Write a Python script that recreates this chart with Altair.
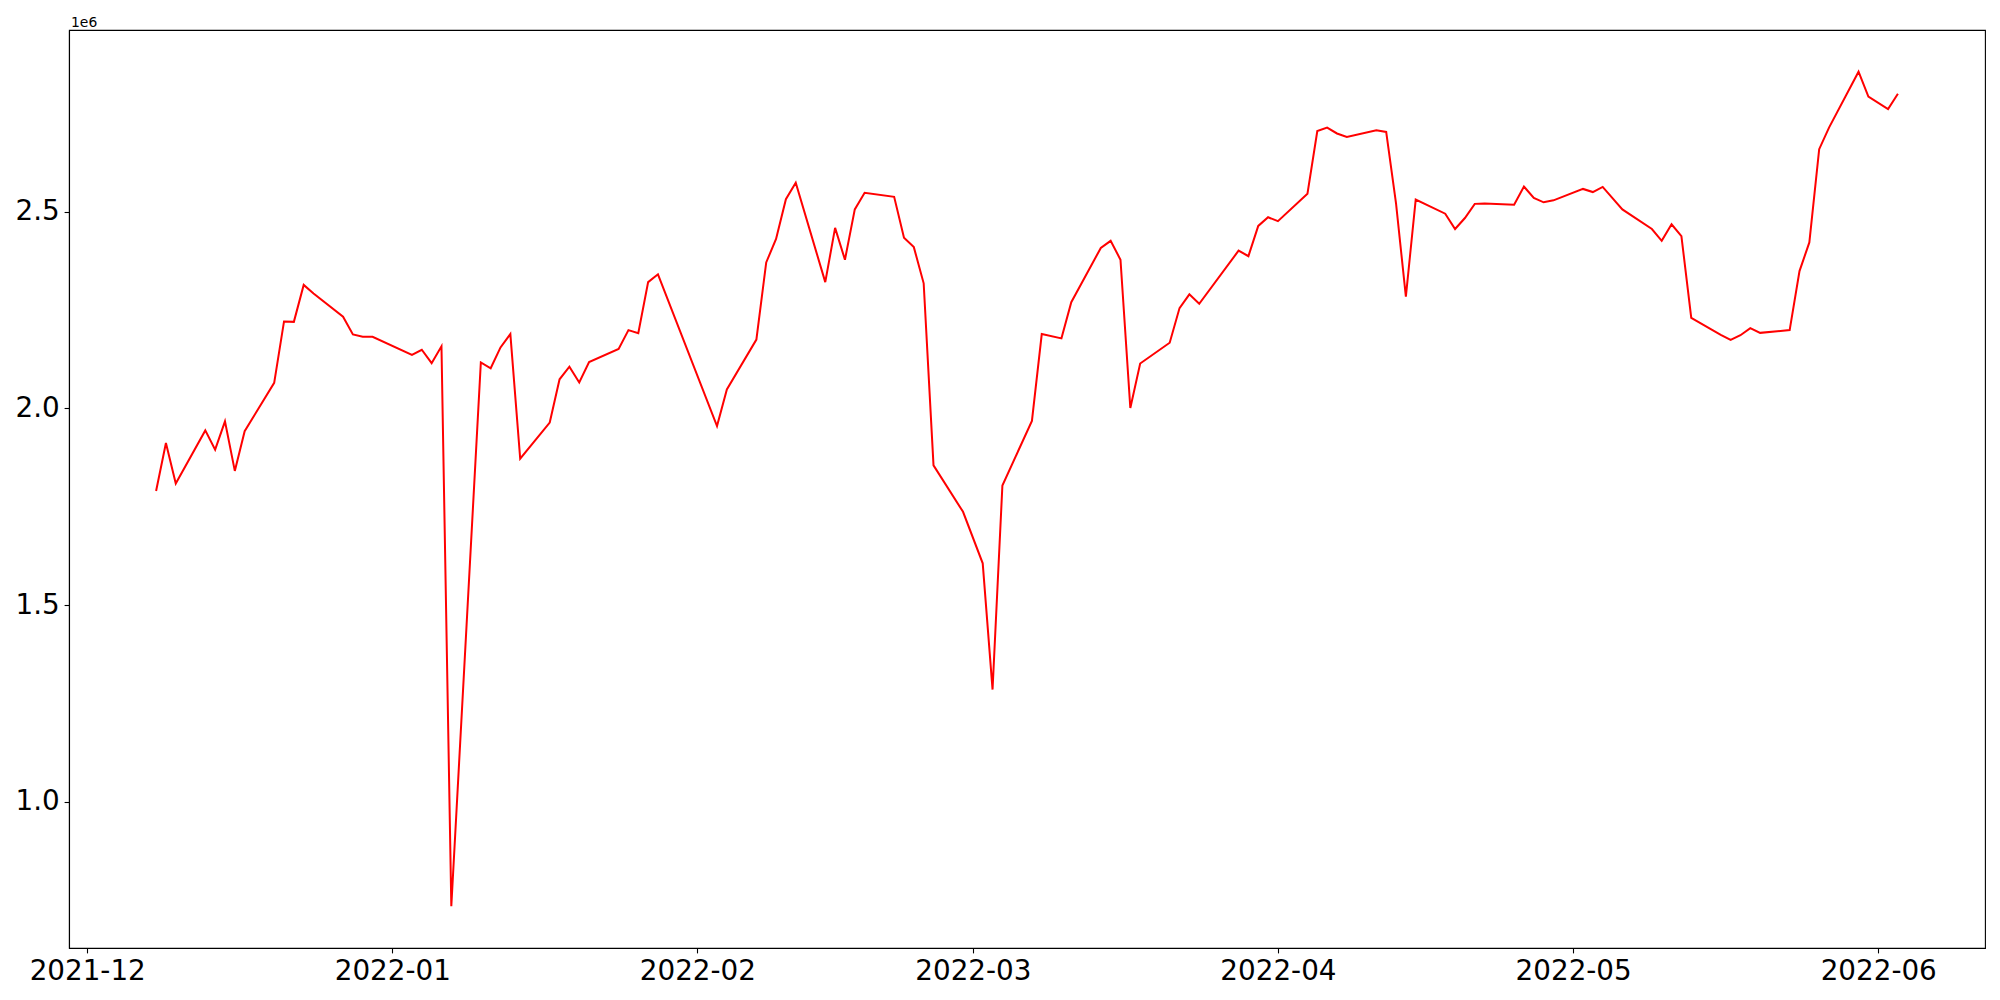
import altair as alt
import pandas as pd

dates = [
    "2021-12-08", "2021-12-09", "2021-12-10", "2021-12-13", "2021-12-14", "2021-12-15",
    "2021-12-16", "2021-12-17", "2021-12-20", "2021-12-21", "2021-12-22", "2021-12-23",
    "2021-12-24", "2021-12-27", "2021-12-28", "2021-12-29", "2021-12-30", "2022-01-03",
    "2022-01-04", "2022-01-05", "2022-01-06", "2022-01-07", "2022-01-10", "2022-01-11",
    "2022-01-12", "2022-01-13", "2022-01-14", "2022-01-17", "2022-01-18", "2022-01-19",
    "2022-01-20", "2022-01-21", "2022-01-24", "2022-01-25", "2022-01-26", "2022-01-27",
    "2022-01-28", "2022-02-03", "2022-02-04", "2022-02-07", "2022-02-08", "2022-02-09",
    "2022-02-10", "2022-02-11", "2022-02-14", "2022-02-15", "2022-02-16", "2022-02-17",
    "2022-02-18", "2022-02-21", "2022-02-22", "2022-02-23", "2022-02-24", "2022-02-25",
    "2022-02-28", "2022-03-02", "2022-03-03", "2022-03-04", "2022-03-07", "2022-03-08",
    "2022-03-10", "2022-03-11", "2022-03-14", "2022-03-15", "2022-03-16", "2022-03-17",
    "2022-03-18", "2022-03-21", "2022-03-22", "2022-03-23", "2022-03-24", "2022-03-28",
    "2022-03-29", "2022-03-30", "2022-03-31", "2022-04-01", "2022-04-04", "2022-04-05",
    "2022-04-06", "2022-04-07", "2022-04-08", "2022-04-11", "2022-04-12", "2022-04-13",
    "2022-04-14", "2022-04-15", "2022-04-18", "2022-04-19", "2022-04-20", "2022-04-21",
    "2022-04-22", "2022-04-25", "2022-04-26", "2022-04-27", "2022-04-28", "2022-04-29",
    "2022-05-02", "2022-05-03", "2022-05-04", "2022-05-06", "2022-05-09", "2022-05-10",
    "2022-05-11", "2022-05-12", "2022-05-13", "2022-05-16", "2022-05-17", "2022-05-18",
    "2022-05-19", "2022-05-20", "2022-05-23", "2022-05-24", "2022-05-25", "2022-05-26",
    "2022-05-27", "2022-05-30", "2022-05-31", "2022-06-02", "2022-06-03",
]

values = [
    1790000, 1912000, 1809000, 1944000, 1895000, 1967000,
    1841000, 1942000, 2065000, 2221000, 2220000, 2314000,
    2292000, 2233000, 2188000, 2182000, 2182000, 2136000,
    2149000, 2115000, 2158000, 734000, 2117000, 2102000,
    2155000, 2189000, 1872000, 1964000, 2074000, 2106000,
    2066000, 2118000, 2151000, 2199000, 2191000, 2321000,
    2341000, 1955000, 2048000, 2175000, 2371000, 2431000,
    2532000, 2574000, 2321000, 2459000, 2378000, 2506000,
    2548000, 2538000, 2434000, 2410000, 2318000, 1855000,
    1737000, 1606000, 1285000, 1804000, 1968000, 2189000,
    2178000, 2270000, 2408000, 2426000, 2378000, 2001000,
    2114000, 2167000, 2255000, 2290000, 2266000, 2401000,
    2387000, 2464000, 2486000, 2476000, 2546000, 2705000,
    2714000, 2699000, 2690000, 2707000, 2703000, 2521000,
    2284000, 2531000, 2495000, 2456000, 2484000, 2520000,
    2521000, 2518000, 2564000, 2535000, 2524000, 2529000,
    2558000, 2550000, 2563000, 2506000, 2456000, 2426000,
    2468000, 2438000, 2230000, 2187000, 2174000, 2186000,
    2204000, 2192000, 2199000, 2349000, 2422000, 2659000,
    2714000, 2856000, 2793000, 2761000, 2800000,
]

x_ticks = ["2021-12-01", "2022-01-01", "2022-02-01", "2022-03-01",
           "2022-04-01", "2022-05-01", "2022-06-01"]
y_ticks = [1000000, 1500000, 2000000, 2500000]

df = pd.DataFrame({"date": dates, "value": values})

# matplotlib-like 5% margins
ts = pd.to_datetime(pd.Series(dates))
t0, t1 = ts.min(), ts.max()
pad_t = (t1 - t0) * 0.05
ms = lambda t: int(pd.Timestamp(t).value // 1_000_000)
x_domain = [ms(t0 - pad_t), ms(t1 + pad_t)]
x_tick_ms = [ms(d) for d in x_ticks]

vmin, vmax = min(values), max(values)
pad_v = (vmax - vmin) * 0.05
y_domain = [vmin - pad_v, vmax + pad_v]

FONT = "DejaVu Sans"
FS = 27.8

chart = alt.Chart(df).mark_line(color="red", strokeWidth=2).encode(
    x=alt.X(
        "date:T",
        scale=alt.Scale(type="utc", domain=x_domain, nice=False),
        axis=alt.Axis(
            values=x_tick_ms,
            labelExpr="utcFormat(datum.value, '%Y-%m')",
            title=None,
            grid=False,
            tickSize=4.9,
            tickWidth=1.1,
            tickColor="black",
            domainColor="black",
            domainWidth=1.1,
            labelPadding=4.9,
            labelFont=FONT,
            labelFontSize=FS,
            labelColor="black",
            labelAngle=0,
            labelAlign="center",
            labelBaseline="top",
            labelOverlap=False,
            labelFlush=False,
        ),
    ),
    y=alt.Y(
        "value:Q",
        scale=alt.Scale(domain=y_domain, nice=False, zero=False),
        axis=alt.Axis(
            values=y_ticks,
            labelExpr="format(datum.value / 1000000, '.1f')",
            title="1e6",
            titleAngle=0,
            titleX=1.5,
            titleY=-4,
            titleAlign="left",
            titleBaseline="alphabetic",
            titleFont=FONT,
            titleFontSize=13.9,
            titleFontWeight="normal",
            titleColor="black",
            grid=False,
            tickSize=4.9,
            tickWidth=1.1,
            tickColor="black",
            domainColor="black",
            domainWidth=1.1,
            labelPadding=4.9,
            labelFont=FONT,
            labelFontSize=FS,
            labelColor="black",
            labelAlign="right",
            labelBaseline="middle",
            labelOverlap=False,
            labelFlush=False,
        ),
    ),
).properties(
    width=1916,
    height=918,
    background="white",
    autosize=alt.AutoSizeParams(type="none"),
    padding={"left": 61, "top": 22, "right": 5, "bottom": 50},
).configure_view(
    stroke="black",
    strokeWidth=1.1,
)

chart.save("out.html", embed_options={"renderer": "svg", "actions": False})
